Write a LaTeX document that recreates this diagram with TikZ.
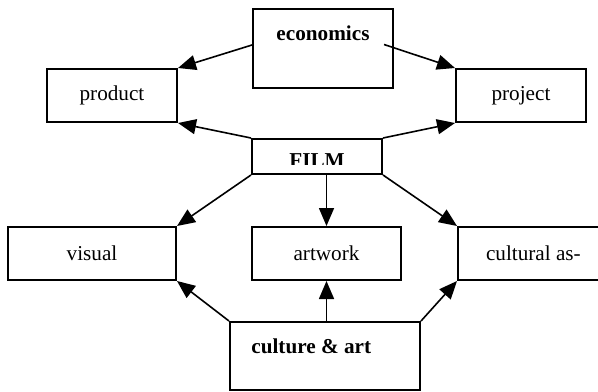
\documentclass[tikz,border=0pt]{standalone}
\usepackage{fontspec}
\setmainfont{Liberation Serif}
\usetikzlibrary{arrows.meta, positioning}
\newcommand{\diagfont}{\fontsize{10.6}{12.7}\selectfont}
\tikzset{
  box/.style={draw, line width=1pt, inner sep=0pt, minimum height=26.5pt, font=\diagfont},
  head/.style={inner sep=0pt, font=\diagfont\bfseries},
  link/.style={-{Triangle[length=9pt,width=7.5pt]}, line width=0.8pt}
}

\begin{document}
\begin{tikzpicture}[x=0.5pt, y=-0.5pt]
	\clip (0,0) rectangle (598,391);
	% upper part
	\node[box, minimum width=70pt, minimum height=39.5pt] (econ) at (323,48.5) {};
	\node[head, anchor=base] (econtext) at ([yshift=-16pt]econ.north) {economics};
	\node[box, minimum width=65pt] (product) at (112,95.5) {product};
	\node[box, minimum width=65pt] (project) at (521,95.5) {project};
	\node[box, minimum width=65pt, minimum height=17.5pt] (film) at (317,156.5) {};
	\begin{scope}
		\clip (252,139) rectangle (382,164);
		\node[head] (filmtext) at (317,161) {FILM};
	\end{scope}
	% lower part
	\node[box, minimum width=84pt] (visual) at (92,253.5) {visual};
	\node[box, minimum width=74.5pt] (artwork) at (326.5,253.5) {artwork};
	\node[box, anchor=west, inner xsep=14pt] (cult) at (457,253.5) {cultural as-};
	\node[box, minimum width=95pt, minimum height=34pt] (cart) at (325,356) {};
	\node[head, anchor=base west] (carttext) at ([xshift=11pt,yshift=-16pt]cart.north west) {culture \& art};
	% connectors
	\draw[link] ([yshift=1.75pt]econ.west) -- (product.north east);
	\draw[link] ([xshift=-5pt,yshift=2pt]econ.east) -- (project.north west);
	\draw[link] (film.north west) -- (product.south east);
	\draw[link] (film.north east) -- (project.south west);
	\draw[link] (film.south west) -- (visual.north east);
	\draw[link] (film.south -| artwork.north) -- (artwork.north);
	\draw[link] (film.south east) -- (cult.north west);
	\draw[link] (cart.north west) -- (visual.south east);
	\draw[link] (cart.north -| artwork.south) -- (artwork.south);
	\draw[link] (cart.north east) -- (cult.south west);
\end{tikzpicture}
\end{document}
